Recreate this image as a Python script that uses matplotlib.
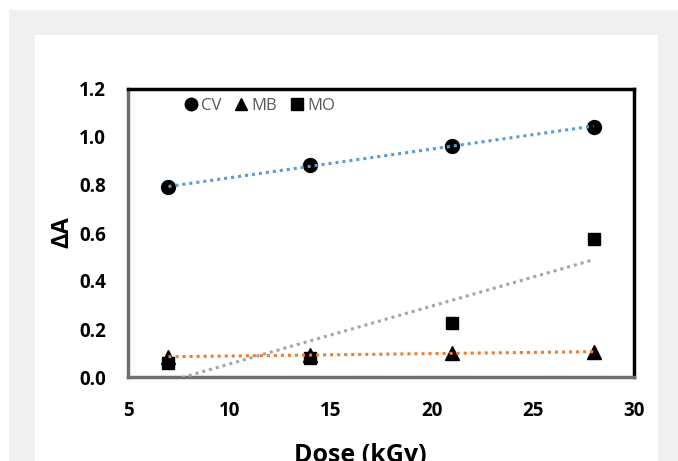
import numpy as np
import matplotlib.pyplot as plt
from matplotlib.patches import Rectangle
from matplotlib.lines import Line2D

# dose values (kGy) and absorbance changes
dose = [7, 14, 21, 28]
cv = [0.79, 0.883, 0.963, 1.043]
mb = [0.085, 0.09, 0.10, 0.105]
mo = [0.06, 0.08, 0.225, 0.575]

xticks = [5, 10, 15, 20, 25, 30]
yticks = [0.0, 0.2, 0.4, 0.6, 0.8, 1.0, 1.2]

plt.rcParams["font.family"] = ["Open Sans", "DejaVu Sans"]

W, H = 678, 461
fig = plt.figure(figsize=(W / 100, H / 100), dpi=100)
fig.patch.set_facecolor("white")

# grey page background and white chart panel
fig.add_artist(Rectangle((9 / W, 0), 1 - 9 / W, 1 - 10 / H, transform=fig.transFigure,
                         facecolor="#f0f0f0", edgecolor="none", zorder=-3))
fig.add_artist(Rectangle((35 / W, 0), (658 - 35) / W, 1 - 35 / H, transform=fig.transFigure,
                         facecolor="white", edgecolor="none", zorder=-2))

ax = fig.add_axes([128 / W, 1 - 377 / H, (634 - 128) / W, (377 - 89) / H])
ax.set_facecolor("none")

ms = 10
ax.plot(dose, cv, "o", color="black", ms=ms, zorder=3)
ax.plot(dose, mb, "^", color="black", ms=ms, zorder=3)
ax.plot(dose, mo, "s", color="black", ms=ms - 1, zorder=3)

# linear trendlines like excel, drawn over the markers
x = np.array(dose, dtype=float)
for ys, col in [(cv, "#5b9bd5"), (mb, "#ed7d31"), (mo, "#a5a5a5")]:
    k, b = np.polyfit(x, ys, 1)
    ax.plot(x, k * x + b, color=col, lw=2.2, ls=(0, (1, 1.3)), zorder=4)

ax.set_xlim(5, 30)
ax.set_ylim(0, 1.2)
ax.set_xticks(xticks)
ax.set_yticks(yticks)
ax.set_xticklabels([str(t) for t in xticks], fontsize=13.5, fontweight="bold")
ax.set_yticklabels(["%.1f" % t for t in yticks], fontsize=13.5, fontweight="bold")
ax.tick_params(axis="both", length=0)
ax.tick_params(axis="x", pad=17)
ax.tick_params(axis="y", pad=16)

for s in ["left", "bottom"]:
    ax.spines[s].set_color("#6f6f6f")
    ax.spines[s].set_linewidth(2.5)
for s in ["top", "right"]:
    ax.spines[s].set_color("black")
    ax.spines[s].set_linewidth(2.5)

handles = [
    Line2D([], [], marker="o", color="black", ls="none", ms=9),
    Line2D([], [], marker="^", color="black", ls="none", ms=9),
    Line2D([], [], marker="s", color="black", ls="none", ms=8),
]
leg = ax.legend(handles, ["CV", "MB", "MO"], ncol=3, frameon=False,
                loc="center left", bbox_to_anchor=(0.085, 0.94),
                handlelength=0.6, handletextpad=0.3, columnspacing=0.9,
                prop={"size": 12})
for t in leg.get_texts():
    t.set_color("#595959")

fig.text(62 / W, 1 - 232 / H, "ΔA", rotation=90, ha="center", va="center",
         fontsize=17, fontweight="bold")
fig.text(360 / W, 1 - 462 / H, "Dose (kGy)", ha="center", va="baseline",
         fontsize=18, fontweight="bold")

plt.savefig("out.png", dpi=100)
